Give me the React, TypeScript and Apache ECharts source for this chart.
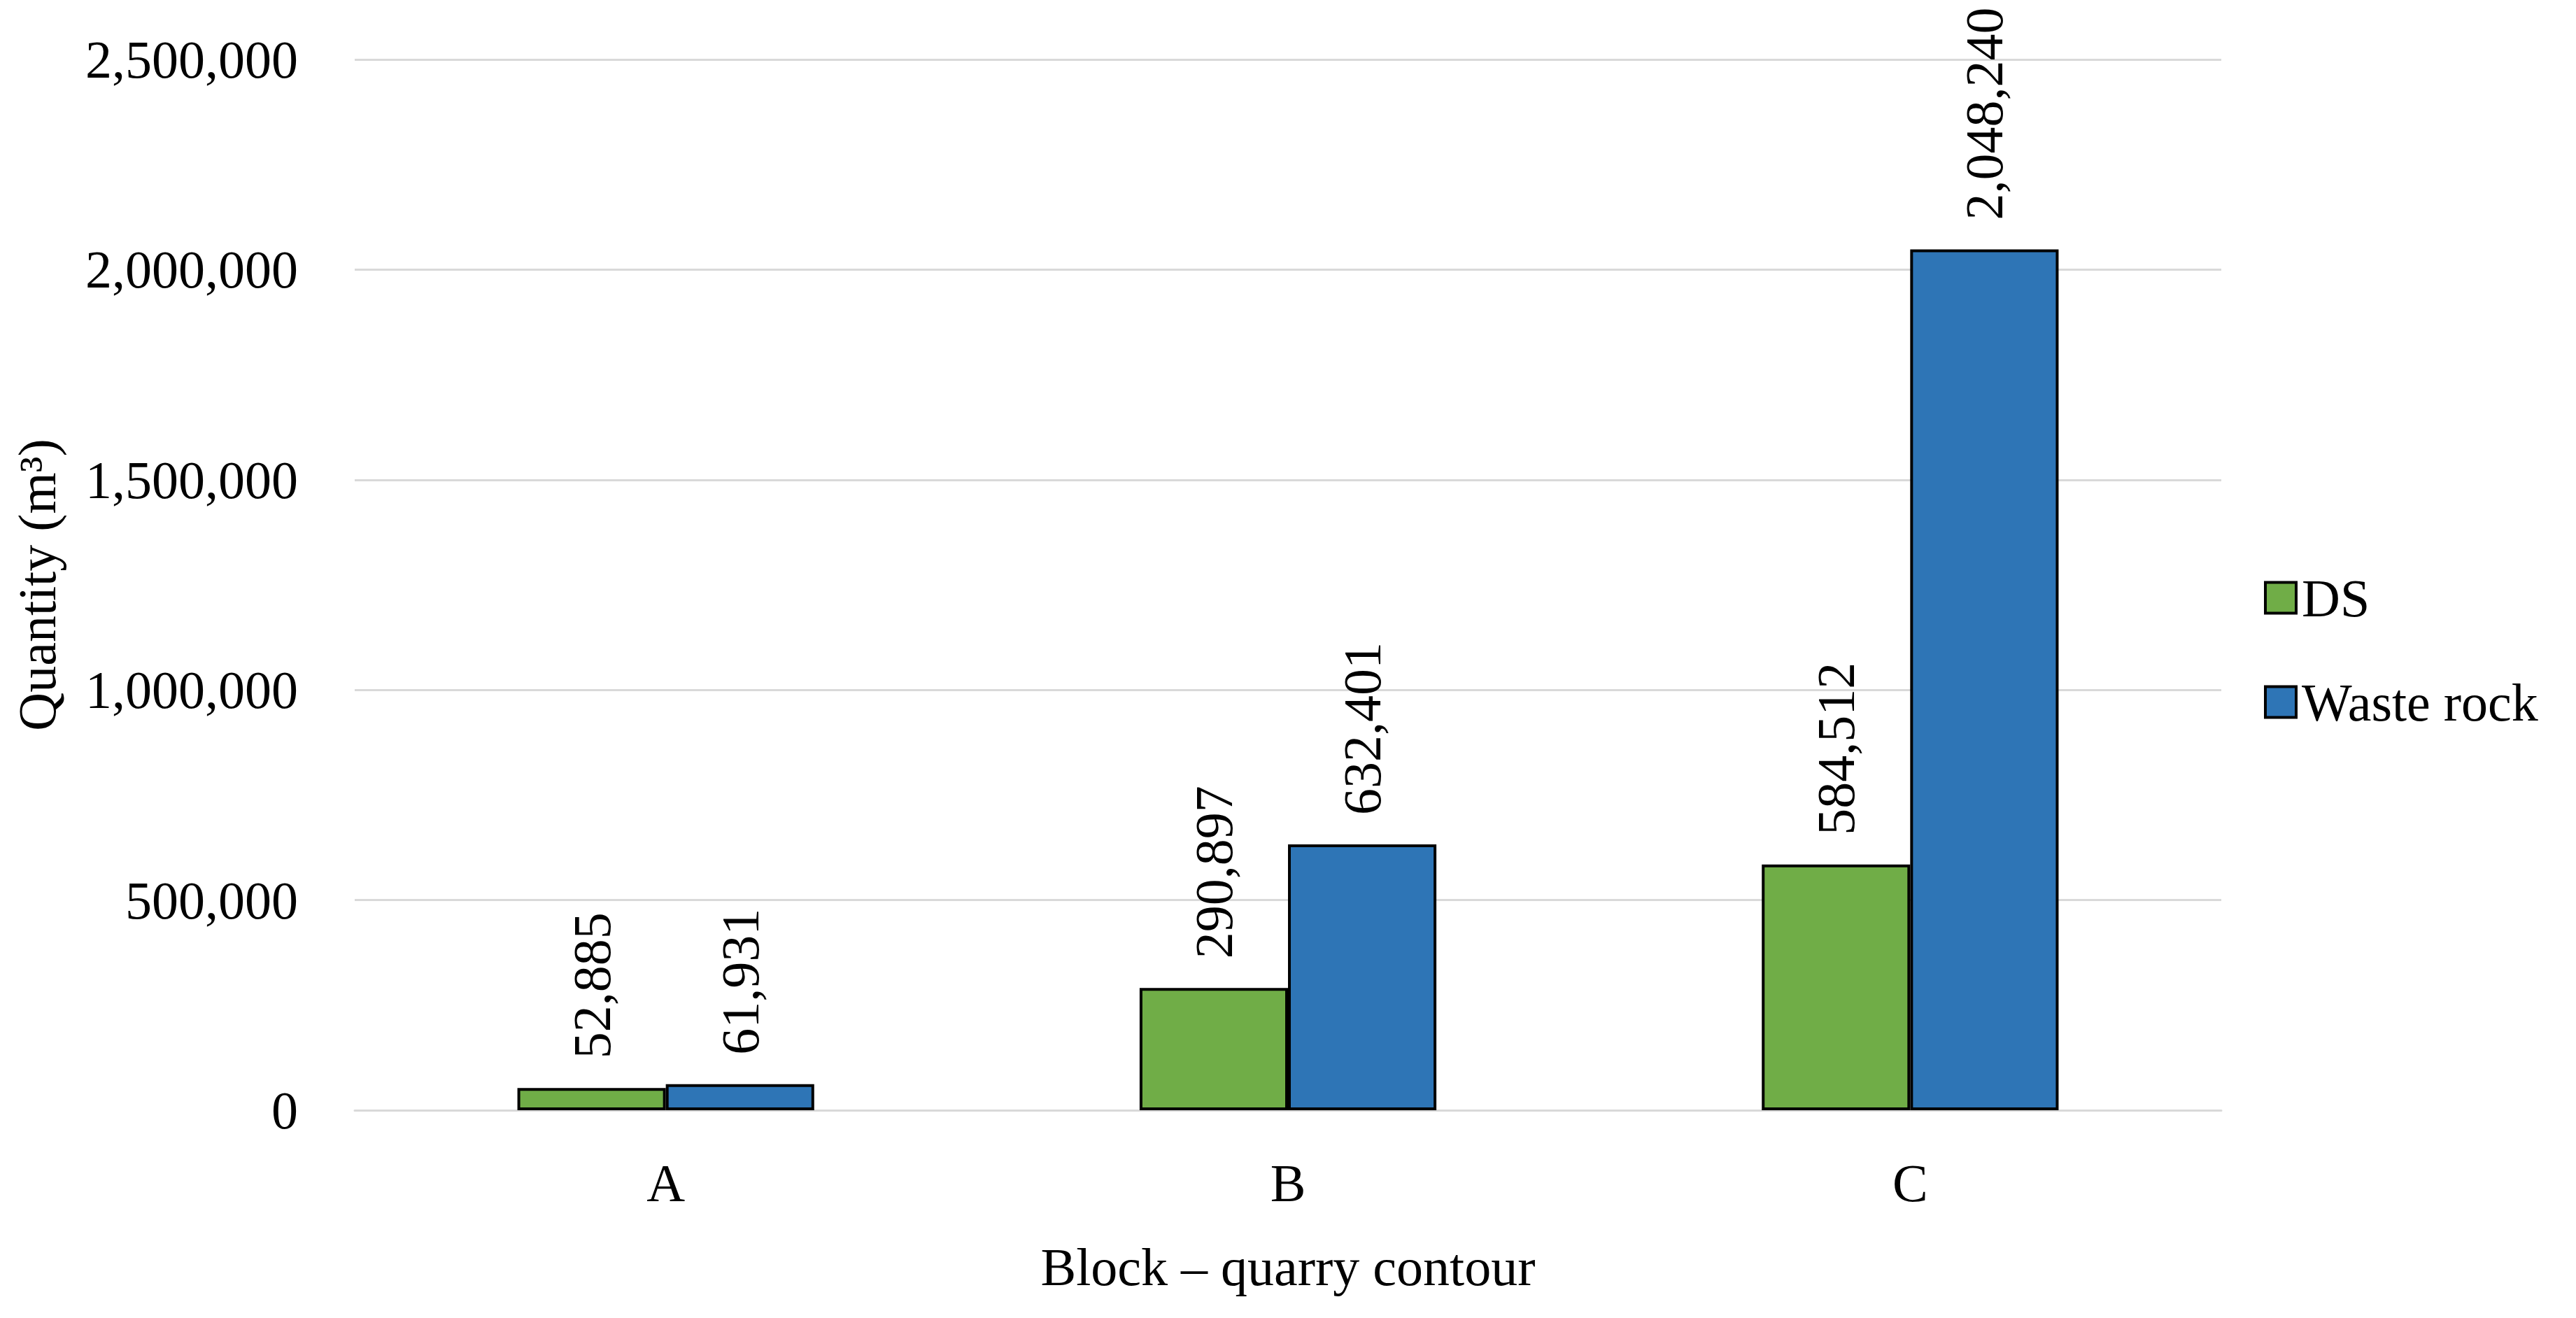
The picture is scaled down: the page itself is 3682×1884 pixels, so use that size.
import React, { useEffect, useRef } from "react";
import * as echarts from "echarts";

const categories = ["A", "B", "C"];
const dsValues = [52885, 290897, 584512];
const wasteValues = [61931, 632401, 2048240];
const seriesNames = ["DS", "Waste rock"];
const yTicks = { min: 0, max: 2500000, interval: 500000 };

const FONT = "'Liberation Serif', 'Times New Roman', serif";
const FS = 76;
const fmt = (v: number) => Number(v).toLocaleString("en-US");

export default function App() {
  const ref = useRef<HTMLDivElement>(null);
  useEffect(() => {
    if (!ref.current) return;
    const chart = echarts.init(ref.current, undefined, { renderer: "svg" });
    const barLabel = {
      show: true,
      position: "top",
      rotate: 90,
      align: "left",
      verticalAlign: "middle",
      distance: 42,
      fontFamily: FONT,
      fontSize: FS,
      color: "#000",
      formatter: (p: any) => fmt(p.value),
    };
    chart.setOption({
      animation: false,
      backgroundColor: "#fff",
      textStyle: { fontFamily: FONT, color: "#000" },
      grid: {
        left: 507,
        right: 507,
        top: 85,
        bottom: 297,
        containLabel: false,
        outerBoundsMode: "none",
      },
      legend: {
        orient: "vertical",
        left: 3231,
        top: 811,
        itemWidth: 44,
        itemHeight: 44,
        itemGap: 72,
        icon: "rect",
        textStyle: { fontFamily: FONT, fontSize: FS, color: "#000", padding: [0, 0, 0, 3], lineHeight: 77 },
        itemStyle: { borderColor: "#000", borderWidth: 4 },
        data: seriesNames,
      },
      xAxis: {
        type: "category",
        data: categories,
        name: "Block \u2013 quarry contour",
        nameLocation: "middle",
        nameGap: 186,
        nameTextStyle: { fontFamily: FONT, fontSize: FS, color: "#000" },
        axisLine: { show: true, lineStyle: { color: "#d9d9d9", width: 3 } },
        axisTick: { show: false },
        axisLabel: { fontFamily: FONT, fontSize: FS, color: "#000", margin: 66 },
      },
      yAxis: {
        type: "value",
        min: yTicks.min,
        max: yTicks.max,
        interval: yTicks.interval,
        name: "Quantity (m\u00b3)",
        nameLocation: "middle",
        nameGap: 416,
        nameRotate: 90,
        nameTextStyle: { fontFamily: FONT, fontSize: FS, color: "#000" },
        axisLine: { show: false },
        axisTick: { show: false },
        splitLine: { lineStyle: { color: "#d9d9d9", width: 3 } },
        axisLabel: {
          fontFamily: FONT,
          fontSize: FS,
          color: "#000",
          margin: 81,
          formatter: (v: number) => fmt(v),
        },
      },
      series: [
        {
          name: seriesNames[0],
          type: "bar",
          data: dsValues,
          barGap: "0%",
          barCategoryGap: "52.3%",
          itemStyle: { color: "#70AD47", borderColor: "#000", borderWidth: 4 },
          label: barLabel,
        },
        {
          name: seriesNames[1],
          type: "bar",
          data: wasteValues,
          barGap: "0%",
          barCategoryGap: "52.3%",
          itemStyle: { color: "#2E75B6", borderColor: "#000", borderWidth: 4 },
          label: barLabel,
        },
      ],
    });
    return () => chart.dispose();
  }, []);
  return (
    <div
      ref={ref}
      style={{ position: "fixed", left: 0, top: 0, width: "3682px", height: "1884px", background: "#fff" }}
    />
  );
}
